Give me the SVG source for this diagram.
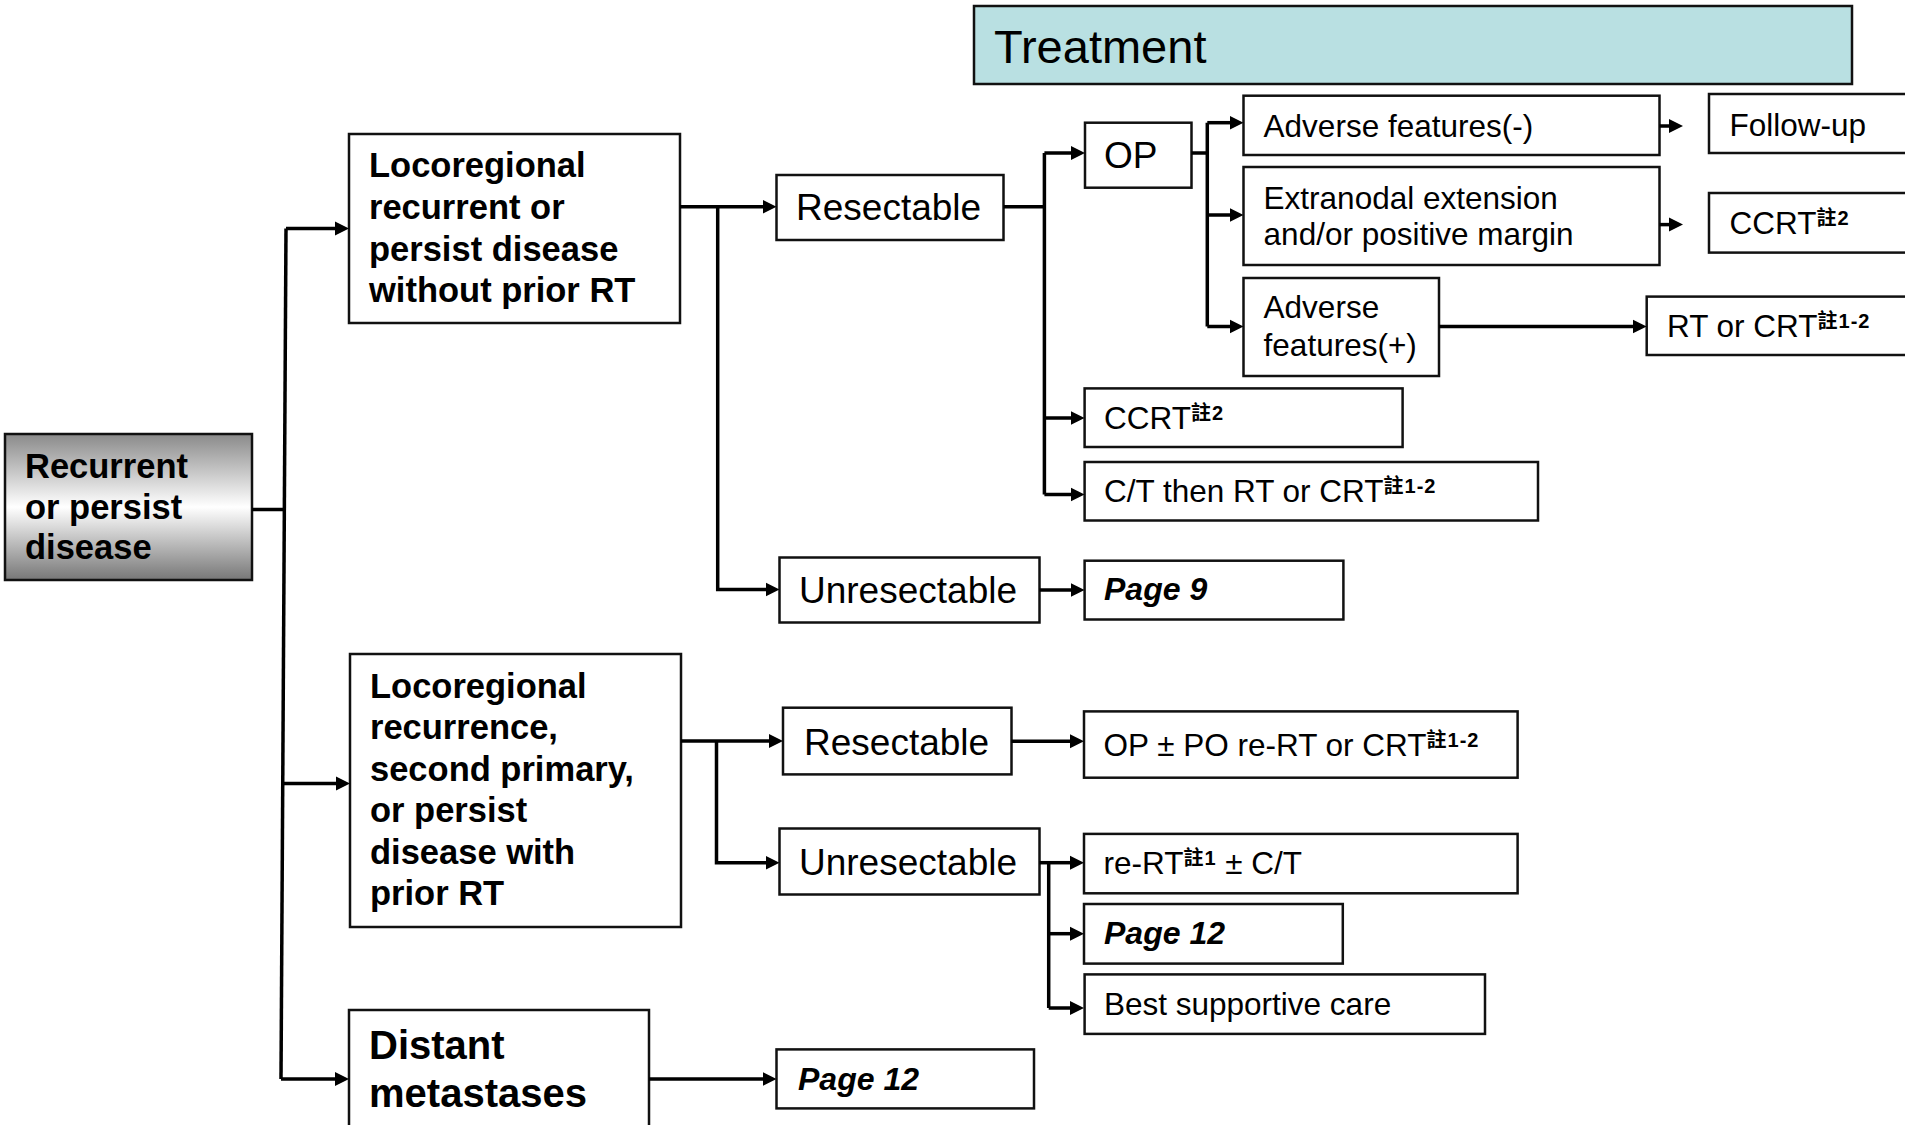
<svg xmlns="http://www.w3.org/2000/svg" width="1905" height="1125" viewBox="0 0 1905 1125">
<defs>
<linearGradient id="gr" x1="0" y1="0" x2="0" y2="1">
<stop offset="0" stop-color="#8a8a8a"/>
<stop offset="0.5" stop-color="#ffffff"/>
<stop offset="1" stop-color="#777777"/>
</linearGradient>
<marker id="ah" markerUnits="userSpaceOnUse" markerWidth="16" markerHeight="16" viewBox="0 -8 16 16" refX="1" refY="0" orient="auto">
<path d="M0,-7 L14,0 L0,7 z" fill="#000"/>
</marker>
</defs>
<style>
rect{fill:#fff;stroke:#111;stroke-width:2.5}
text{font-family:"Liberation Sans","Noto Sans CJK TC",Arial,sans-serif;fill:#000}
.n{font-size:31.5px}
.m{font-size:37px}
.b{font-size:34.5px;font-weight:bold}
.d{font-size:40px;font-weight:bold}
.p{font-size:32px;font-weight:bold;font-style:italic}
.s{font-size:20px;font-weight:bold;letter-spacing:1px}
#conn path{fill:none;stroke:#000;stroke-width:3.5}
#conn path.a{marker-end:url(#ah)}
</style>

<g id="header">
<rect x="974" y="6" width="878" height="78" style="fill:#b9e0e2"/>
<text x="994" y="63" style="font-size:47px">Treatment</text>
</g>

<g id="root">
<rect x="5" y="434" width="247" height="146" style="fill:url(#gr)"/>
<text class="b" x="25" y="478">Recurrent</text>
<text class="b" x="25" y="519">or persist</text>
<text class="b" x="25" y="559">disease</text>
</g>

<g id="lr1">
<rect x="349" y="134" width="331" height="189"/>
<text class="b" x="369" y="177">Locoregional</text>
<text class="b" x="369" y="219">recurrent or</text>
<text class="b" x="369" y="261">persist disease</text>
<text class="b" x="369" y="302">without prior RT</text>
</g>

<g id="lr2">
<rect x="350" y="654" width="331" height="273"/>
<text class="b" x="370" y="698">Locoregional</text>
<text class="b" x="370" y="739">recurrence,</text>
<text class="b" x="370" y="781">second primary,</text>
<text class="b" x="370" y="822">or persist</text>
<text class="b" x="370" y="864">disease with</text>
<text class="b" x="370" y="905">prior RT</text>
</g>

<g id="distant">
<rect x="349" y="1010" width="300" height="140"/>
<text class="d" x="369" y="1059">Distant</text>
<text class="d" x="369" y="1107">metastases</text>
</g>

<g id="res1">
<rect x="776.5" y="175" width="227" height="65"/>
<text class="m" x="796" y="220">Resectable</text>
</g>

<g id="unres1">
<rect x="779.5" y="557.5" width="260" height="65"/>
<text class="m" x="799" y="602.5">Unresectable</text>
</g>

<g id="op">
<rect x="1085" y="122.7" width="106.5" height="65"/>
<text class="m" x="1104" y="168">OP</text>
</g>

<g id="ccrt1">
<rect x="1084.6" y="388.4" width="318" height="58.6"/>
<text class="n" x="1104" y="429">CCRT<tspan class="s" dy="-9">註2</tspan></text>
</g>

<g id="ctthen">
<rect x="1084.6" y="462" width="453.4" height="58.5"/>
<text class="n" x="1104" y="502">C/T then RT or CRT<tspan class="s" dy="-9">註1-2</tspan></text>
</g>

<g id="page9">
<rect x="1084.6" y="560.7" width="258.8" height="58.8"/>
<text class="p" x="1104" y="600">Page 9</text>
</g>

<g id="advneg">
<rect x="1243.5" y="95.7" width="416" height="59.3"/>
<text class="n" x="1263.6" y="136.6">Adverse features(-)</text>
</g>

<g id="extra">
<rect x="1243.5" y="167" width="416" height="98"/>
<text class="n" x="1263.6" y="208.6">Extranodal extension</text>
<text class="n" x="1263.6" y="245">and/or positive margin</text>
</g>

<g id="advpos">
<rect x="1243.5" y="278" width="195.5" height="98"/>
<text class="n" x="1263.6" y="318.4">Adverse</text>
<text class="n" x="1263.6" y="356">features(+)</text>
</g>

<g id="followup">
<rect x="1709" y="94" width="200" height="59"/>
<text class="n" x="1729.5" y="136">Follow-up</text>
</g>

<g id="ccrt2">
<rect x="1709" y="193" width="200" height="59.6"/>
<text class="n" x="1729.5" y="234">CCRT<tspan class="s" dy="-9">註2</tspan></text>
</g>

<g id="rtcrt">
<rect x="1646.7" y="296.6" width="262" height="58.4"/>
<text class="n" x="1667" y="336.8">RT or CRT<tspan class="s" dy="-9">註1-2</tspan></text>
</g>

<g id="res2">
<rect x="783" y="707.7" width="228.5" height="66.7"/>
<text class="m" x="804" y="754.6">Resectable</text>
</g>

<g id="unres2">
<rect x="779.5" y="828.5" width="260" height="66"/>
<text class="m" x="799" y="875.3">Unresectable</text>
</g>

<g id="opop">
<rect x="1084" y="711.4" width="433.6" height="66.3"/>
<text class="n" x="1103.5" y="756.4">OP ± PO re-RT or CRT<tspan class="s" dy="-9">註1-2</tspan></text>
</g>

<g id="rert">
<rect x="1084" y="833.9" width="433.6" height="59.4"/>
<text class="n" x="1103.5" y="873.5">re-RT<tspan class="s" dy="-9">註1</tspan><tspan dy="9"> ± C/T</tspan></text>
</g>

<g id="page12a">
<rect x="1084" y="904" width="258.8" height="59.6"/>
<text class="p" x="1104" y="943.8">Page 12</text>
</g>

<g id="bsc">
<rect x="1084.6" y="974.4" width="400.4" height="59.5"/>
<text class="n" x="1104" y="1014.8">Best supportive care</text>
</g>

<g id="page12b">
<rect x="776.5" y="1049.4" width="257.5" height="59"/>
<text class="p" x="798" y="1089.7">Page 12</text>
</g>

<g id="conn">
<path d="M252,509.5 H285.5"/>
<path d="M286,228.5 L281,1079"/>
<path class="a" d="M286,228.5 H336"/>
<path class="a" d="M283,783.4 H337"/>
<path class="a" d="M281,1079 H336"/>
<path class="a" d="M680,206.7 H763.5"/>
<path class="a" d="M717.7,206.7 V589.4 H766.5"/>
<path class="a" d="M1039.5,590 H1071.6"/>
<path d="M1003.6,206.7 H1044.4"/>
<path d="M1044.4,153 V494.5"/>
<path class="a" d="M1044.4,153 H1072"/>
<path class="a" d="M1044.4,418 H1071.6"/>
<path class="a" d="M1044.4,494.5 H1071.6"/>
<path d="M1191.5,153 H1207.3"/>
<path d="M1207.3,122.7 V326.5"/>
<path class="a" d="M1207.3,122.7 H1230.5"/>
<path class="a" d="M1207.3,215 H1230.5"/>
<path class="a" d="M1207.3,326.5 H1230.5"/>
<path class="a" d="M1659.5,126 H1670"/>
<path class="a" d="M1659.5,224.6 H1670"/>
<path class="a" d="M1439,326.5 H1633.7"/>
<path class="a" d="M681,741 H770"/>
<path class="a" d="M716.5,741 V862.7 H766.5"/>
<path class="a" d="M649,1079 H763.5"/>
<path class="a" d="M1011.5,741.3 H1071"/>
<path class="a" d="M1039.5,862.7 H1071"/>
<path d="M1048.7,862.7 V1008"/>
<path class="a" d="M1048.7,933.7 H1071"/>
<path class="a" d="M1048.7,1008 H1071"/>
</g>
</svg>
